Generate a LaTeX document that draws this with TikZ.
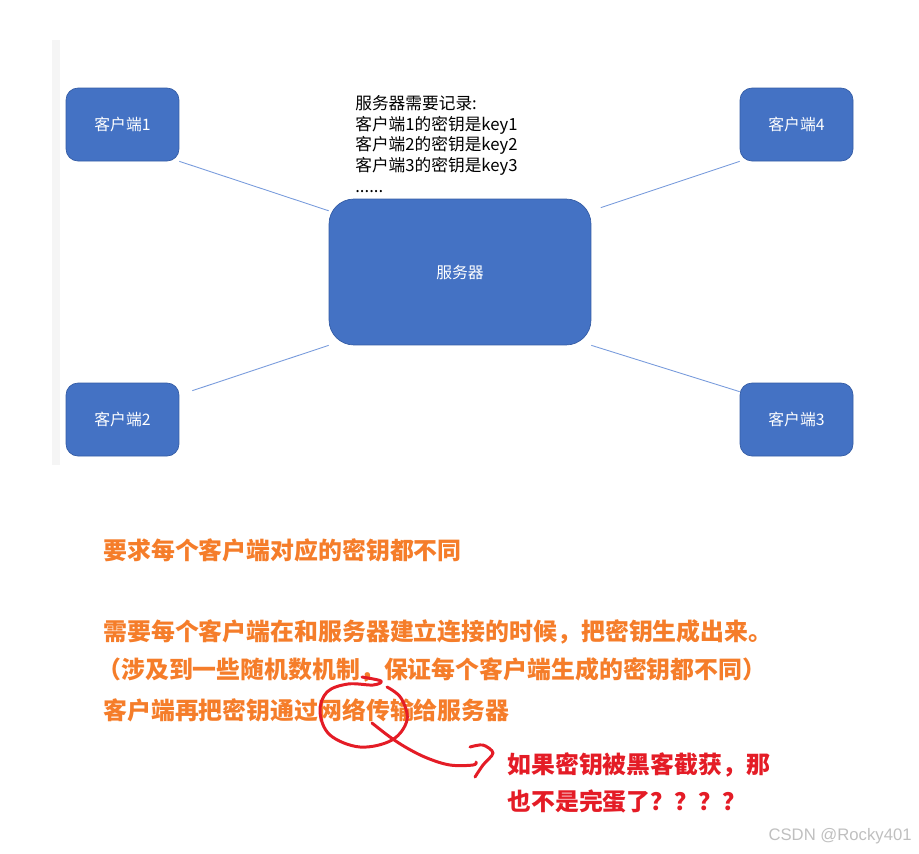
\documentclass[tikz,border=0pt]{standalone}
\usepackage{fontspec}
\setmainfont{Noto Sans CJK SC}
\newfontfamily\markfont{Liberation Sans}
\definecolor{boxblue}{RGB}{68,114,196}
\definecolor{boxedge}{RGB}{52,92,165}
\definecolor{linkblue}{RGB}{120,155,220}
\definecolor{notecolor}{RGB}{245,125,42}
\definecolor{inkred}{RGB}{228,28,38}

\begin{document}
\begin{tikzpicture}[x=0.02cm,y=-0.02cm,
	client/.style={draw=boxedge,line width=0.4pt,fill=boxblue,text=white,rounded corners=0.24cm,minimum width=2.26cm,minimum height=1.46cm,font=\fontsize{9}{11}\selectfont},
	server/.style={client,rounded corners=0.5cm,minimum width=5.24cm,minimum height=2.92cm},
	link/.style={draw=linkblue,line width=0.5pt},
	orange/.style={anchor=west,text=notecolor,inner sep=0pt,font=\fontsize{13.6}{16}\selectfont\bfseries},
	ink/.style={draw=inkred,line width=1.7pt,line cap=round,line join=round}]
\useasboundingbox (0,0) rectangle (919,853);
\draw [black!4,line width=4pt] (56,40)--(56,465);
\node[client] (c1) at (122.5,124.5) {客户端1};
\node[client] (c4) at (796.5,124.5) {客户端4};
\node[client] (c2) at (122.5,419.5) {客户端2};
\node[client] (c3) at (796.5,419.5) {客户端3};
\node[server] (srv) at (460,272) {服务器};
\node[anchor=north west,align=left,inner sep=0pt,font=\fontsize{9.5}{11.8}\selectfont] (rec) at (355,95) {服务器需要记录:\\客户端1的密钥是key1\\客户端2的密钥是key2\\客户端3的密钥是key3\\......};
\draw [link](c1.south east)--(srv.155);
\draw [link,shorten <=0.2cm](srv.25)--(c4.south west);
\draw [link](srv.south west)--([xshift=0.26cm,yshift=-0.16cm]c2.north east);
\draw [link](srv.south east)--([yshift=-0.18cm]c3.north west);
\node[orange] (t1) at (103,550) {要求每个客户端对应的密钥都不同};
\node[orange] (t2) at (103,632) {需要每个客户端在和服务器建立连接的时候，把密钥生成出来。};
\node[orange] (t3) at (97,670) {（涉及到一些随机数机制，保证每个客户端生成的密钥都不同）};
\node[orange] (t4) at (103,710) {客户端再把密钥通过网络传输给服务器};
% hand-drawn circle and arrow
\draw [ink] plot[smooth,tension=0.6] coordinates {(362,677) (381,681) (373,685) (348,684) (327,692) (320,712) (330,735) (360,747) (392,740) (407,720) (401,698) (387,687)};
\draw [ink] plot[smooth,tension=0.6] coordinates {(372,723) (390,737) (407,748) (427,758) (450,765) (473,765) (476,762)};
\draw [ink] plot[smooth,tension=0.5] coordinates {(470,747) (483,745) (493,753) (483,765) (475,777)};
\node[anchor=west,align=left,text=inkred,inner sep=0pt,font=\fontsize{13.6}{21}\selectfont\bfseries] (q) at (507,783) {如果密钥被黑客截获，那\\也不是完蛋了？？？？};
\node[anchor=east,inner sep=0pt,text=black!25,font=\markfont\fontsize{9.5}{12}\selectfont] (wm) at (912,836) {CSDN @Rocky401};
\end{tikzpicture}
\end{document}
